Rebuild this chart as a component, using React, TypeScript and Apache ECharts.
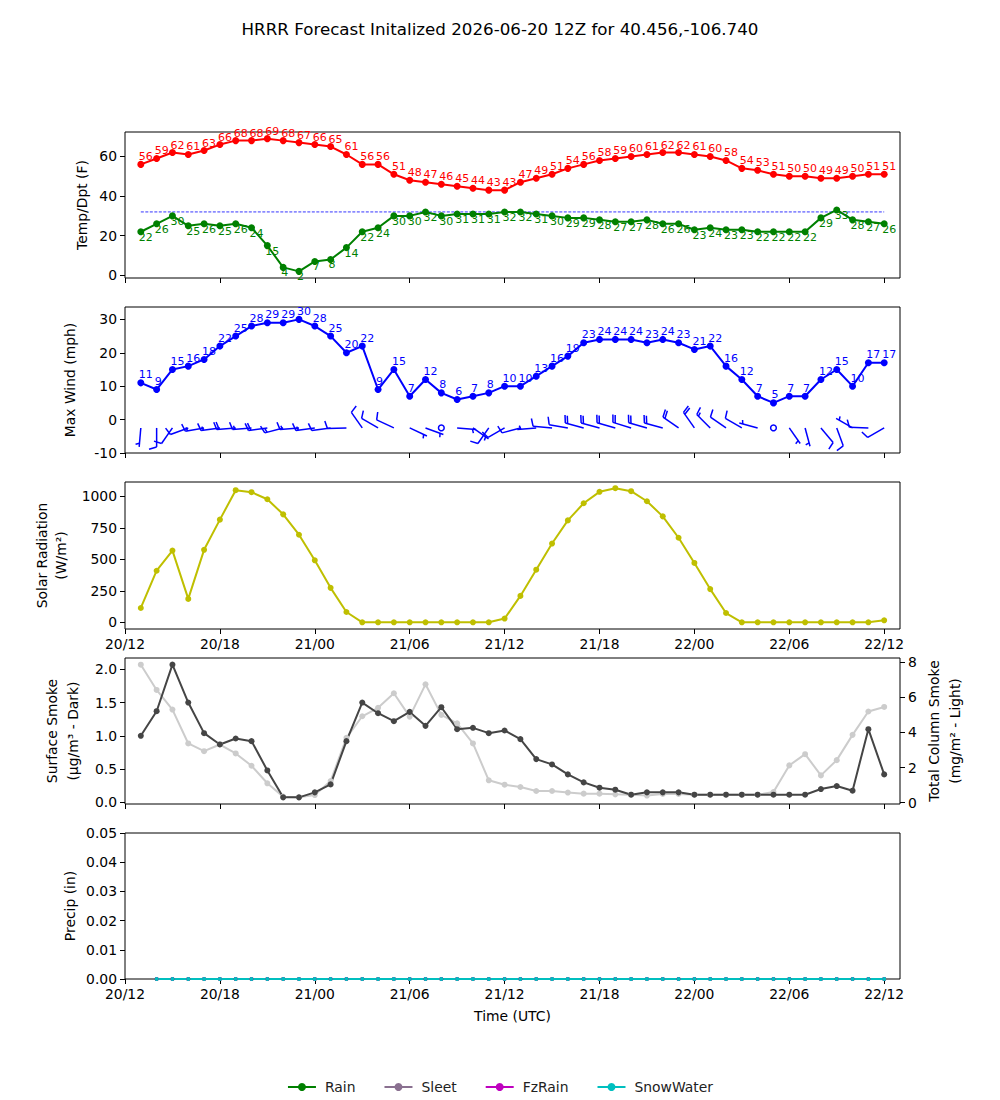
import React, { useEffect, useRef } from "react";
import * as echarts from "echarts";

// Hours after 20/00 UTC for each forecast step (20/13 ... 22/12)
const HOURS = [
  13, 14, 15, 16, 17, 18, 19, 20, 21, 22, 23, 24, 25, 26, 27, 28, 29, 30, 31, 32, 33, 34, 35, 36,
  37, 38, 39, 40, 41, 42, 43, 44, 45, 46, 47, 48, 49, 50, 51, 52, 53, 54, 55, 56, 57, 58, 59, 60,
];
const X_TICKS = [12, 18, 24, 30, 36, 42, 48, 54, 60];

const TEMP = [
  56, 59, 62, 61, 63, 66, 68, 68, 69, 68, 67, 66, 65, 61, 56, 56, 51, 48, 47, 46, 45, 44, 43, 43,
  47, 49, 51, 54, 56, 58, 59, 60, 61, 62, 62, 61, 60, 58, 54, 53, 51, 50, 50, 49, 49, 50, 51, 51,
];
const DEWP = [
  22, 26, 30, 25, 26, 25, 26, 24, 15, 4, 2, 7, 8, 14, 22, 24, 30, 30, 32, 30, 31, 31, 31, 32,
  32, 31, 30, 29, 29, 28, 27, 27, 28, 26, 26, 23, 24, 23, 23, 22, 22, 22, 22, 29, 33, 28, 27, 26,
];
const FREEZING = 32;
const WIND = [
  11, 9, 15, 16, 18, 22, 25, 28, 29, 29, 30, 28, 25, 20, 22, 9, 15, 7, 12, 8, 6, 7, 8, 10,
  10, 13, 16, 19, 23, 24, 24, 24, 23, 24, 23, 21, 22, 16, 12, 7, 5, 7, 7, 12, 15, 10, 17, 17,
];
// Wind barbs: direction the wind blows from (deg) and speed (kt)
const BARB_DIR = [
  185, 180, 215, 250, 260, 262, 265, 265, 262, 255, 265, 262, 262, 268, 325, 300, 295, 115, 110, 0, 95, 125, 215, 240,
  255, 265, 275, 280, 285, 285, 286, 287, 286, 285, 305, 325, 315, 305, 300, 285, 0, 145, 165, 140, 160, 300, 272, 240,
];
const BARB_SPD = [
  5, 10, 10, 10, 15, 15, 20, 15, 20, 15, 15, 15, 10, 10, 10, 10, 10, 5, 5, 0, 5, 5, 10, 10,
  10, 5, 10, 10, 20, 20, 20, 20, 20, 20, 20, 20, 15, 10, 10, 5, 0, 5, 5, 10, 10, 5, 10, 10,
];
const BARB_LEVEL = -2.5;
const SOLAR = [
  114, 410, 570, 186, 576, 816, 1050, 1034, 978, 858, 696, 493, 274, 82, 0, 0, 0, 0, 0, 0, 0, 0, 0, 30,
  210, 418, 626, 810, 946, 1037, 1066, 1042, 962, 842, 672, 472, 264, 74, 0, 0, 0, 0, 0, 0, 0, 0, 0, 16,
];
const SMOKE_SFC = [
  1.0, 1.37, 2.07, 1.5, 1.04, 0.87, 0.96, 0.92, 0.48, 0.075, 0.075, 0.15, 0.27, 0.92, 1.5, 1.34, 1.22, 1.36, 1.15, 1.43, 1.1, 1.12, 1.04, 1.08,
  0.95, 0.65, 0.57, 0.42, 0.3, 0.22, 0.19, 0.115, 0.15, 0.15, 0.15, 0.115, 0.115, 0.115, 0.115, 0.115, 0.115, 0.115, 0.115, 0.2, 0.245, 0.175, 1.1, 0.42,
];
const SMOKE_COL = [
  7.86, 6.42, 5.3, 3.37, 2.93, 3.31, 2.8, 2.1, 1.1, 0.34, 0.3, 0.43, 1.23, 3.69, 4.92, 5.4, 6.23, 4.9, 6.74, 5.0, 4.52, 3.37, 1.27, 1.02,
  0.89, 0.66, 0.66, 0.57, 0.51, 0.51, 0.47, 0.45, 0.4, 0.49, 0.49, 0.45, 0.45, 0.45, 0.45, 0.45, 0.6, 2.12, 2.76, 1.55, 2.42, 3.86, 5.19, 5.45,
];
// Precip accumulations (in), starting at 20/14
const PRECIP_HOURS = [
  14, 15, 16, 17, 18, 19, 20, 21, 22, 23, 24, 25, 26, 27, 28, 29, 30, 31, 32, 33, 34, 35, 36,
  37, 38, 39, 40, 41, 42, 43, 44, 45, 46, 47, 48, 49, 50, 51, 52, 53, 54, 55, 56, 57, 58, 59, 60,
];
const RAIN = [0, 0, 0, 0, 0, 0, 0, 0, 0, 0, 0, 0, 0, 0, 0, 0, 0, 0, 0, 0, 0, 0, 0, 0, 0, 0, 0, 0, 0, 0, 0, 0, 0, 0, 0, 0, 0, 0, 0, 0, 0, 0, 0, 0, 0, 0, 0];
const SLEET = [0, 0, 0, 0, 0, 0, 0, 0, 0, 0, 0, 0, 0, 0, 0, 0, 0, 0, 0, 0, 0, 0, 0, 0, 0, 0, 0, 0, 0, 0, 0, 0, 0, 0, 0, 0, 0, 0, 0, 0, 0, 0, 0, 0, 0, 0, 0];
const FZRAIN = [0, 0, 0, 0, 0, 0, 0, 0, 0, 0, 0, 0, 0, 0, 0, 0, 0, 0, 0, 0, 0, 0, 0, 0, 0, 0, 0, 0, 0, 0, 0, 0, 0, 0, 0, 0, 0, 0, 0, 0, 0, 0, 0, 0, 0, 0, 0];
const SNOWWATER = [0, 0, 0, 0, 0, 0, 0, 0, 0, 0, 0, 0, 0, 0, 0, 0, 0, 0, 0, 0, 0, 0, 0, 0, 0, 0, 0, 0, 0, 0, 0, 0, 0, 0, 0, 0, 0, 0, 0, 0, 0, 0, 0, 0, 0, 0, 0];

const TITLE = "HRRR Forecast Initalized 2026-06-20 12Z for 40.456,-106.740";
const FONT = "DejaVu Sans";
const FS = 13.9;

const pairs = (xs: number[], ys: number[]) => xs.map((x, i) => [x, ys[i]]);

const timeLabel = (h: number) => {
  const day = 20 + Math.floor(h / 24);
  const hr = h % 24;
  return `${day}/${hr < 10 ? "0" + hr : hr}`;
};

function buildOption() {
  const gridTops = [132, 307, 482, 658, 833];
  const gridHeights = [146, 146, 147, 146, 146];
  const grid = gridTops.map((t, i) => ({
    left: 125,
    width: 775,
    top: t,
    height: gridHeights[i],
    show: true,
    borderColor: "#000",
    borderWidth: 1,
    backgroundColor: "transparent",
  }));

  const xAxis = gridTops.map((_, i) => ({
    type: "value",
    gridIndex: i,
    min: 12,
    max: 61,
    interval: 6,
    axisLine: { show: false, onZero: false },
    axisTick: { show: true, length: 5, customValues: X_TICKS, lineStyle: { color: "#000", width: 1 } },
    axisLabel: {
      show: i === 2 || i === 4,
      customValues: X_TICKS,
      formatter: (v: number) => timeLabel(v),
      color: "#000",
      fontSize: FS,
      fontFamily: FONT,
      margin: 8,
    },
    splitLine: { show: false },
    ...(i === 4
      ? {
          name: "Time (UTC)",
          nameLocation: "middle",
          nameGap: 30,
          nameMoveOverlap: false,
          nameTextStyle: { color: "#000", fontSize: FS, fontFamily: FONT },
        }
      : {}),
  }));

  const yBase = (
    gridIndex: number,
    min: number,
    max: number,
    ticks: number[],
    name: string,
    nameGap: number,
    fmt: (v: number) => string,
    extra: any = {}
  ) => ({
    type: "value",
    gridIndex,
    min,
    max,
    axisLine: { show: false, onZero: false },
    axisTick: { show: true, length: 5, customValues: ticks, lineStyle: { color: "#000", width: 1 } },
    axisLabel: {
      customValues: ticks,
      formatter: fmt,
      color: "#000",
      fontSize: FS,
      fontFamily: FONT,
      margin: 8,
    },
    splitLine: { show: false },
    name,
    nameLocation: "middle",
    nameRotate: 90,
    nameGap,
    nameMoveOverlap: false,
    nameTextStyle: { color: "#000", fontSize: FS, fontFamily: FONT, lineHeight: extra.lineHeight || 19 },
    ...(extra.position ? { position: extra.position } : {}),
  });

  const yAxis = [
    yBase(0, -1.35, 72.35, [0, 20, 40, 60], "Temp/Dpt (F)", 34, (v) => String(v)),
    yBase(1, -10, 33.7, [-10, 0, 10, 20, 30], "Max Wind (mph)", 46, (v) => String(v)),
    yBase(2, -53, 1115, [0, 250, 500, 750, 1000], "Solar Radiation\n(W/m²)", 55, (v) => String(v)),
    yBase(3, -0.025, 2.17, [0, 0.5, 1, 1.5, 2], "Surface Smoke\n(μg/m³ - Dark)", 42, (v) => v.toFixed(1), { lineHeight: 21 }),
    yBase(3, -0.08, 8.24, [0, 2, 4, 6, 8], "Total Column Smoke\n(mg/m² - Light)", 23, (v) => String(v), {
      position: "right",
      lineHeight: 21,
    }),
    yBase(4, 0, 0.05, [0, 0.01, 0.02, 0.03, 0.04, 0.05], "Precip (in)", 46, (v) => v.toFixed(2)),
  ];

  const labelFmt = (p: any) => String(Math.round(p.value[1]));

  const barbData = HOURS.map((h, i) => [h, BARB_LEVEL, BARB_DIR[i], BARB_SPD[i]]);

  const renderBarb = (params: any, api: any) => {
    const x = api.value(0);
    const y = api.value(1);
    const dir = api.value(2);
    const spd = api.value(3);
    const pt = api.coord([x, y]);
    const ax = pt[0];
    const ay = pt[1];
    const L = 19;
    const style = { stroke: "#0000ff", lineWidth: 1.5, fill: null };
    if (spd < 2.5) {
      return { type: "circle", shape: { cx: ax, cy: ay, r: 0.15 * L }, style: { stroke: "#0000ff", lineWidth: 1.5, fill: "none" } };
    }
    const rad = (dir * Math.PI) / 180;
    const dx = Math.sin(rad);
    const dy = -Math.cos(rad);
    const px = -dy;
    const py = dx;
    const h = 0.4 * L;
    const w = 0.25 * L;
    const sp = 0.125 * L;
    let s = Math.round(spd / 5) * 5;
    const nb = Math.floor(s / 10);
    s -= nb * 10;
    const half = s >= 5;
    const children: any[] = [
      { type: "polyline", shape: { points: [[ax, ay], [ax + L * dx, ay + L * dy]] }, style },
    ];
    let off = L;
    for (let k = 0; k < nb; k++) {
      const bx = ax + off * dx;
      const by = ay + off * dy;
      const tx = ax + (off + w / 2) * dx + h * px;
      const ty = ay + (off + w / 2) * dy + h * py;
      children.push({ type: "polyline", shape: { points: [[bx, by], [tx, ty]] }, style });
      off -= sp;
    }
    if (half) {
      if (off === L) off -= 1.5 * sp;
      const bx = ax + off * dx;
      const by = ay + off * dy;
      const tx = ax + (off + w / 4) * dx + (h / 2) * px;
      const ty = ay + (off + w / 4) * dy + (h / 2) * py;
      children.push({ type: "polyline", shape: { points: [[bx, by], [tx, ty]] }, style });
    }
    return { type: "group", children };
  };

  const precipSeries = (name: string, color: string, vals: number[], size: number) => ({
    name,
    type: "line",
    xAxisIndex: 4,
    yAxisIndex: 5,
    data: pairs(PRECIP_HOURS, vals),
    symbol: "circle",
    symbolSize: size,
    clip: false,
    itemStyle: { color },
    lineStyle: { color, width: 2 },
  });

  return {
    animation: false,
    backgroundColor: "#fff",
    textStyle: { fontFamily: FONT },
    title: {
      text: TITLE,
      left: "center",
      top: 15,
      textStyle: { color: "#000", fontSize: 16.7, fontWeight: "normal", fontFamily: FONT },
    },
    legend: {
      data: ["Rain", "Sleet", "FzRain", "SnowWater"],
      left: "center",
      top: 1075,
      itemWidth: 28,
      itemHeight: 10,
      itemGap: 28,
      textStyle: { color: "#222", fontSize: FS, fontFamily: FONT, padding: [0, 0, 0, 4] },
    },
    grid,
    xAxis,
    yAxis,
    series: [
      {
        name: "Temp",
        type: "line",
        xAxisIndex: 0,
        yAxisIndex: 0,
        data: pairs(HOURS, TEMP),
        symbol: "circle",
        symbolSize: 7,
        itemStyle: { color: "#ff0000" },
        lineStyle: { color: "#ff0000", width: 2 },
        label: {
          show: true,
          formatter: labelFmt,
          position: [1.5, 1.5],
          align: "left",
          verticalAlign: "bottom",
          color: "#ff0000",
          fontSize: 11,
          fontFamily: FONT,
        },
      },
      {
        name: "Freezing",
        type: "line",
        xAxisIndex: 0,
        yAxisIndex: 0,
        data: [
          [HOURS[0], FREEZING],
          [HOURS[HOURS.length - 1], FREEZING],
        ],
        symbol: "none",
        lineStyle: { color: "#0000ff", width: 0.8, type: [3, 1.5] },
      },
      {
        name: "Dewpoint",
        type: "line",
        xAxisIndex: 0,
        yAxisIndex: 0,
        data: pairs(HOURS, DEWP),
        symbol: "circle",
        symbolSize: 7,
        itemStyle: { color: "#008000" },
        lineStyle: { color: "#008000", width: 2 },
        label: {
          show: true,
          formatter: labelFmt,
          position: [1.5, 3.5],
          align: "left",
          verticalAlign: "top",
          color: "#008000",
          fontSize: 11,
          fontFamily: FONT,
        },
      },
      {
        name: "Max Wind",
        type: "line",
        xAxisIndex: 1,
        yAxisIndex: 1,
        data: pairs(HOURS, WIND),
        symbol: "circle",
        symbolSize: 7,
        itemStyle: { color: "#0000ff" },
        lineStyle: { color: "#0000ff", width: 2 },
        label: {
          show: true,
          formatter: labelFmt,
          position: [1.5, 1],
          align: "left",
          verticalAlign: "bottom",
          color: "#0000ff",
          fontSize: 11,
          fontFamily: FONT,
        },
      },
      {
        name: "Barbs",
        type: "custom",
        xAxisIndex: 1,
        yAxisIndex: 1,
        data: barbData,
        encode: { x: 0, y: 1 },
        renderItem: renderBarb,
        clip: false,
      },
      {
        name: "Solar",
        type: "line",
        xAxisIndex: 2,
        yAxisIndex: 2,
        data: pairs(HOURS, SOLAR),
        symbol: "circle",
        symbolSize: 6,
        itemStyle: { color: "#bfbf00" },
        lineStyle: { color: "#bfbf00", width: 2 },
      },
      {
        name: "Total Column Smoke",
        type: "line",
        xAxisIndex: 3,
        yAxisIndex: 4,
        data: pairs(HOURS, SMOKE_COL),
        symbol: "circle",
        symbolSize: 6,
        itemStyle: { color: "#cccccc" },
        lineStyle: { color: "#cccccc", width: 2 },
      },
      {
        name: "Surface Smoke",
        type: "line",
        xAxisIndex: 3,
        yAxisIndex: 3,
        data: pairs(HOURS, SMOKE_SFC),
        symbol: "circle",
        symbolSize: 6,
        itemStyle: { color: "#454545" },
        lineStyle: { color: "#454545", width: 2 },
      },
      precipSeries("Rain", "#008000", RAIN, 4),
      precipSeries("Sleet", "#8a7090", SLEET, 4),
      precipSeries("FzRain", "#bf00bf", FZRAIN, 4),
      precipSeries("SnowWater", "#00bfbf", SNOWWATER, 4),
    ],
  };
}

export default function App() {
  const ref = useRef<HTMLDivElement>(null);
  useEffect(() => {
    if (!ref.current) return;
    const chart = echarts.init(ref.current, null, { renderer: "svg" });
    chart.setOption(buildOption() as any);
    return () => chart.dispose();
  }, []);
  return (
    <div
      ref={ref}
      style={{ position: "absolute", left: 0, top: 0, width: 1000, height: 1100, background: "#fff" }}
    />
  );
}
